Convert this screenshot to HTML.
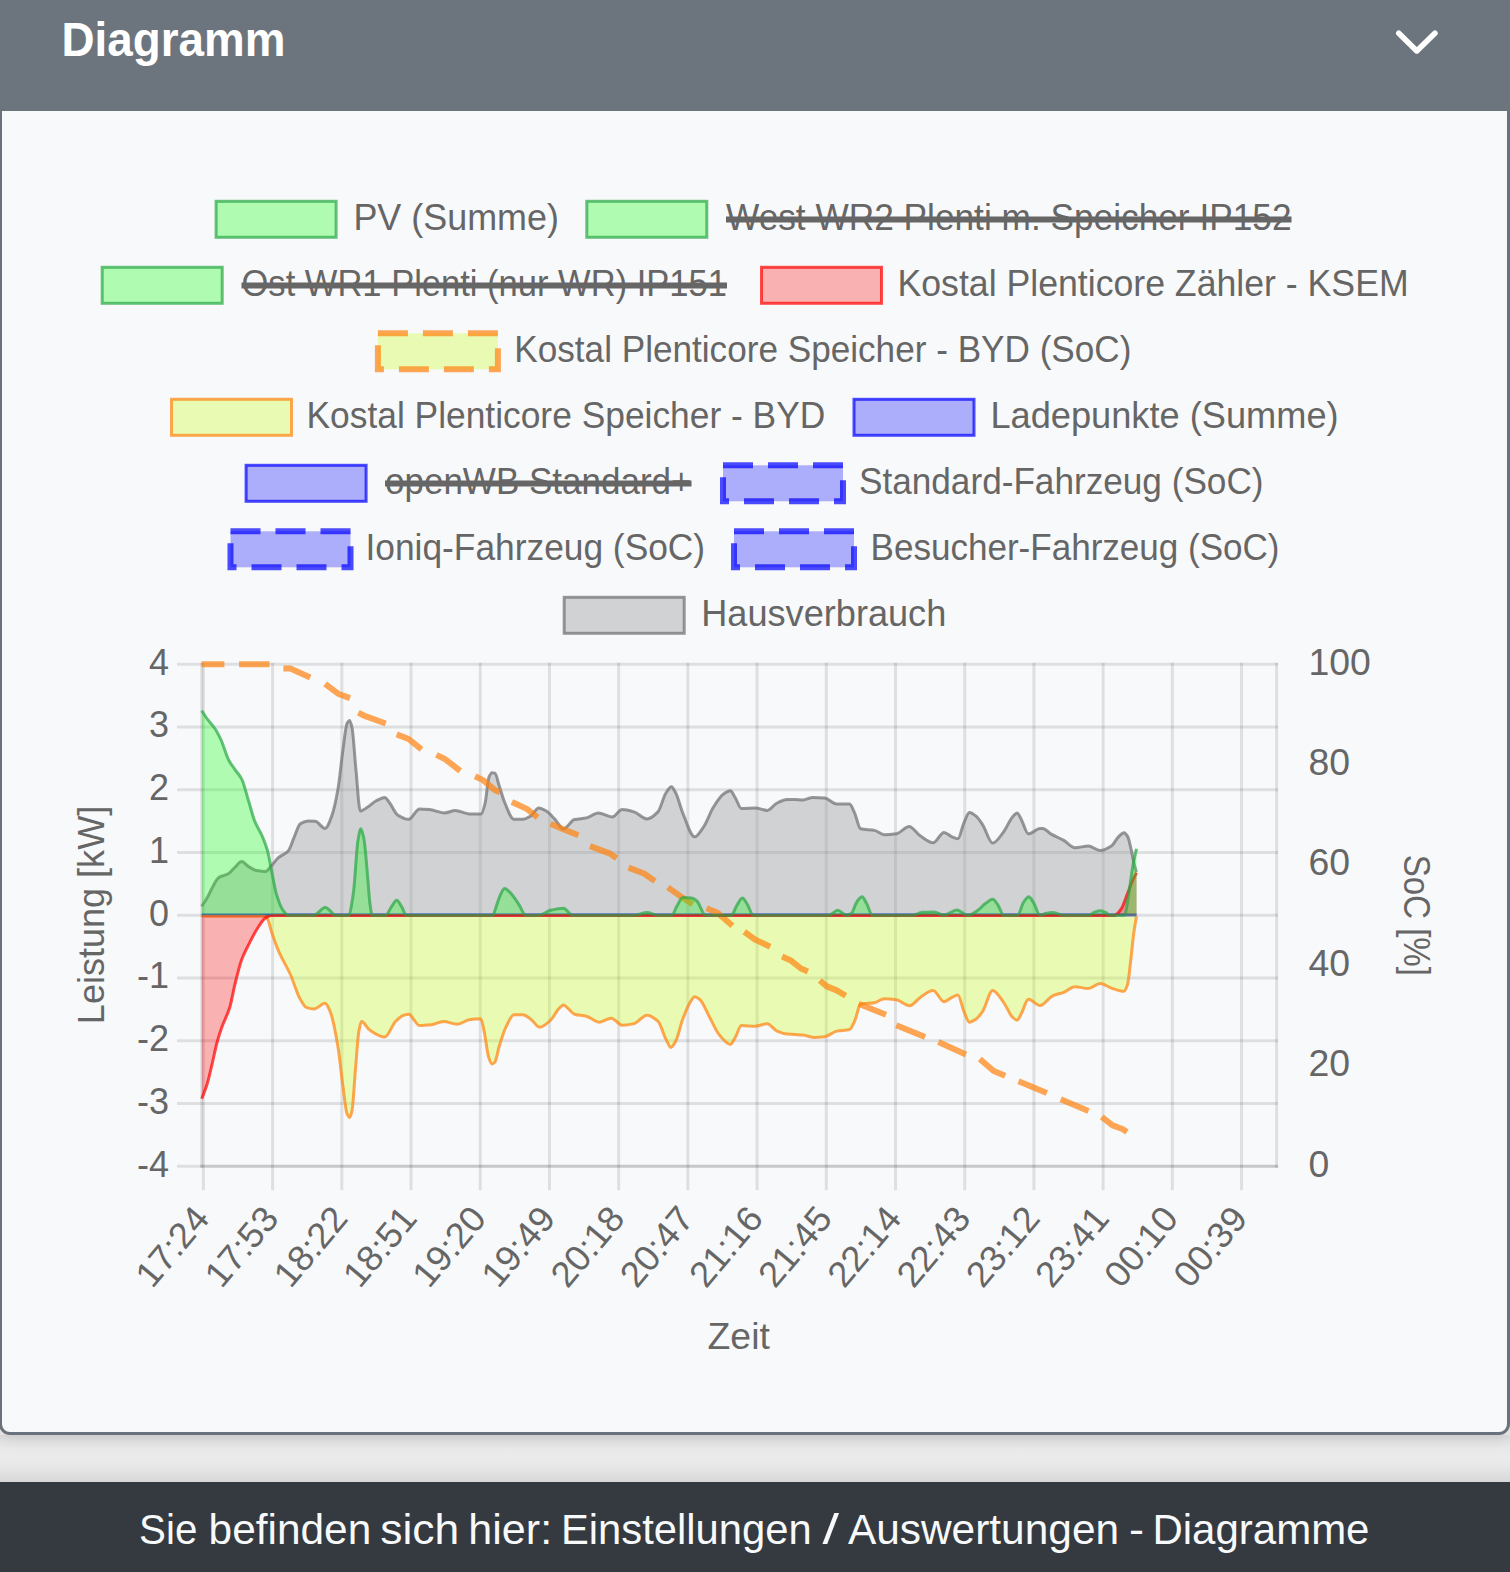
<!DOCTYPE html>
<html><head><meta charset="utf-8"><title>Diagramm</title>
<style>
html,body{margin:0;padding:0}
body{width:1510px;height:1572px;position:relative;overflow:hidden;background:#ececec;font-family:"Liberation Sans",sans-serif}
#card{position:absolute;left:-1px;top:-20px;width:1505px;height:1449px;background:#f8f9fa;border:3px solid #6a737d;border-radius:11px;box-shadow:0 2px 14px rgba(0,0,0,0.12)}
#hdr{position:absolute;left:0;top:0;width:1510px;height:111px;background:#6c757d}
#gap{position:absolute;left:0;top:1435px;width:1510px;height:47px;background:linear-gradient(#dedede 0%,#e9e9e9 30%,#ebebeb 50%,#e4e4e4 75%,#d7d7d7 100%);z-index:-1}
#ftr{position:absolute;left:0;top:1482px;width:1510px;height:90px;background:#343a40}
svg{position:absolute;left:0;top:0}
</style></head><body>
<div id="gap"></div>
<div id="card"></div>
<div id="hdr"></div>
<div id="ftr"></div>
<svg width="1510" height="1572" viewBox="0 0 1510 1572">
<defs><clipPath id="ca"><rect x="200.2" y="655" width="1081" height="520"/></clipPath></defs>
<text x="61.5" y="56.3" fill="#fff" font-family="Liberation Sans, sans-serif" font-weight="bold" font-size="47.5" textLength="224" lengthAdjust="spacingAndGlyphs">Diagramm</text>
<path d="M1398.8 33.2L1416.8 50.9L1434.9 33.2" fill="none" stroke="#fff" stroke-width="5.6" stroke-linecap="round" stroke-linejoin="round"/>
<text x="139.1" y="1544" fill="#f8f9fa" font-family="Liberation Sans, sans-serif" font-size="42" textLength="58.3" lengthAdjust="spacingAndGlyphs">Sie</text>
<text x="208.6" y="1544" fill="#f8f9fa" font-family="Liberation Sans, sans-serif" font-size="42" textLength="162.7" lengthAdjust="spacingAndGlyphs">befinden</text>
<text x="380.2" y="1544" fill="#f8f9fa" font-family="Liberation Sans, sans-serif" font-size="42" textLength="79.1" lengthAdjust="spacingAndGlyphs">sich</text>
<text x="468.3" y="1544" fill="#f8f9fa" font-family="Liberation Sans, sans-serif" font-size="42" textLength="83.8" lengthAdjust="spacingAndGlyphs">hier:</text>
<text x="561.0" y="1544" fill="#f8f9fa" font-family="Liberation Sans, sans-serif" font-size="42" textLength="250.7" lengthAdjust="spacingAndGlyphs">Einstellungen</text>
<text x="822.5" y="1544" fill="#f8f9fa" font-family="Liberation Sans, sans-serif" font-size="42" textLength="16.5" lengthAdjust="spacingAndGlyphs">/</text>
<text x="847.9" y="1544" fill="#f8f9fa" font-family="Liberation Sans, sans-serif" font-size="42" textLength="271.2" lengthAdjust="spacingAndGlyphs">Auswertungen</text>
<text x="1129.0" y="1544" fill="#f8f9fa" font-family="Liberation Sans, sans-serif" font-size="42" textLength="15.0" lengthAdjust="spacingAndGlyphs">-</text>
<text x="1152.4" y="1544" fill="#f8f9fa" font-family="Liberation Sans, sans-serif" font-size="42" textLength="217.1" lengthAdjust="spacingAndGlyphs">Diagramme</text>
<line x1="203.40" y1="662.8" x2="203.40" y2="1190.3" stroke="rgba(0,0,0,0.1)" stroke-width="3"/>
<line x1="272.61" y1="662.8" x2="272.61" y2="1190.3" stroke="rgba(0,0,0,0.1)" stroke-width="3"/>
<line x1="341.82" y1="662.8" x2="341.82" y2="1190.3" stroke="rgba(0,0,0,0.1)" stroke-width="3"/>
<line x1="411.03" y1="662.8" x2="411.03" y2="1190.3" stroke="rgba(0,0,0,0.1)" stroke-width="3"/>
<line x1="480.24" y1="662.8" x2="480.24" y2="1190.3" stroke="rgba(0,0,0,0.1)" stroke-width="3"/>
<line x1="549.45" y1="662.8" x2="549.45" y2="1190.3" stroke="rgba(0,0,0,0.1)" stroke-width="3"/>
<line x1="618.66" y1="662.8" x2="618.66" y2="1190.3" stroke="rgba(0,0,0,0.1)" stroke-width="3"/>
<line x1="687.87" y1="662.8" x2="687.87" y2="1190.3" stroke="rgba(0,0,0,0.1)" stroke-width="3"/>
<line x1="757.08" y1="662.8" x2="757.08" y2="1190.3" stroke="rgba(0,0,0,0.1)" stroke-width="3"/>
<line x1="826.29" y1="662.8" x2="826.29" y2="1190.3" stroke="rgba(0,0,0,0.1)" stroke-width="3"/>
<line x1="895.50" y1="662.8" x2="895.50" y2="1190.3" stroke="rgba(0,0,0,0.1)" stroke-width="3"/>
<line x1="964.71" y1="662.8" x2="964.71" y2="1190.3" stroke="rgba(0,0,0,0.1)" stroke-width="3"/>
<line x1="1033.92" y1="662.8" x2="1033.92" y2="1190.3" stroke="rgba(0,0,0,0.1)" stroke-width="3"/>
<line x1="1103.13" y1="662.8" x2="1103.13" y2="1190.3" stroke="rgba(0,0,0,0.1)" stroke-width="3"/>
<line x1="1172.34" y1="662.8" x2="1172.34" y2="1190.3" stroke="rgba(0,0,0,0.1)" stroke-width="3"/>
<line x1="1241.55" y1="662.8" x2="1241.55" y2="1190.3" stroke="rgba(0,0,0,0.1)" stroke-width="3"/>
<line x1="177" y1="664.30" x2="1278.1" y2="664.30" stroke="rgba(0,0,0,0.1)" stroke-width="3"/>
<line x1="177" y1="727.05" x2="1278.1" y2="727.05" stroke="rgba(0,0,0,0.1)" stroke-width="3"/>
<line x1="177" y1="789.80" x2="1278.1" y2="789.80" stroke="rgba(0,0,0,0.1)" stroke-width="3"/>
<line x1="177" y1="852.55" x2="1278.1" y2="852.55" stroke="rgba(0,0,0,0.1)" stroke-width="3"/>
<line x1="177" y1="915.30" x2="1278.1" y2="915.30" stroke="rgba(0,0,0,0.1)" stroke-width="3"/>
<line x1="177" y1="978.05" x2="1278.1" y2="978.05" stroke="rgba(0,0,0,0.1)" stroke-width="3"/>
<line x1="177" y1="1040.80" x2="1278.1" y2="1040.80" stroke="rgba(0,0,0,0.1)" stroke-width="3"/>
<line x1="177" y1="1103.55" x2="1278.1" y2="1103.55" stroke="rgba(0,0,0,0.1)" stroke-width="3"/>
<line x1="177" y1="1166.30" x2="1278.1" y2="1166.30" stroke="rgba(0,0,0,0.1)" stroke-width="3"/>
<line x1="201.7" y1="662.8" x2="201.7" y2="1167.8" stroke="rgba(0,0,0,0.1)" stroke-width="3"/>
<line x1="200.2" y1="1166.3" x2="1278.1" y2="1166.3" stroke="rgba(0,0,0,0.1)" stroke-width="3"/>
<line x1="1276.6" y1="662.8" x2="1276.6" y2="1167.8" stroke="rgba(0,0,0,0.1)" stroke-width="3"/>
<g clip-path="url(#ca)">
<path d="M201.7 906.3C203.4 903.6 205.2 901.3 206.9 898.3C208.9 894.8 210.9 889.8 212.9 886.4C214.9 883.0 216.8 878.8 218.8 877.5C222.1 875.3 225.5 875.5 228.8 873.5C230.8 872.3 232.7 869.3 234.7 867.5C237.0 865.3 239.4 861.6 241.7 861.6C244.0 861.6 246.3 865.3 248.6 866.6C251.3 868.2 253.9 870.0 256.6 870.5C259.6 871.0 262.5 871.5 265.5 871.5C267.5 871.5 269.5 867.7 271.5 865.6C273.8 863.2 276.1 859.6 278.4 857.6C281.7 854.7 285.1 854.4 288.4 850.7C290.4 848.5 292.3 841.2 294.3 836.8C296.3 832.3 298.3 825.1 300.3 823.8C302.9 822.1 305.6 820.9 308.2 820.9C310.5 820.9 312.9 821.1 315.2 821.3C318.5 821.6 321.8 828.4 325.1 828.4C327.4 828.4 329.8 821.2 332.1 814.9C334.1 809.6 336.0 800.3 338.0 789.1C339.7 779.6 341.3 761.1 343.0 749.3C344.3 739.8 345.7 726.0 347.0 723.5C347.9 721.9 348.7 720.5 349.6 720.5C350.4 720.5 351.2 724.0 352.0 727.5C353.3 733.2 354.6 756.1 355.9 769.2C357.4 784.0 358.8 810.9 360.3 810.9C362.8 810.9 365.3 808.5 367.8 807.0C370.5 805.4 373.1 802.4 375.8 801.0C378.8 799.4 381.7 797.4 384.7 797.4C386.4 797.4 388.0 800.9 389.7 803.0C392.3 806.3 395.0 813.2 397.6 814.9C401.3 817.3 404.9 819.3 408.6 819.3C412.2 819.3 415.9 808.9 419.5 808.9C422.8 808.9 426.1 809.2 429.4 809.5C434.4 810.0 439.3 812.9 444.3 812.9C448.0 812.9 451.6 810.5 455.3 810.5C459.9 810.5 464.6 813.9 469.2 813.9C473.2 813.9 477.1 813.9 481.1 813.9C482.4 813.9 483.8 808.2 485.1 803.0C486.4 798.0 487.7 780.2 489.0 777.2C490.0 774.9 491.0 772.8 492.0 772.8C493.0 772.8 494.0 773.0 495.0 773.2C496.3 773.5 497.7 781.1 499.0 785.1C501.0 791.0 502.9 798.5 504.9 803.0C507.9 809.9 510.9 819.3 513.9 819.3C516.9 819.3 519.8 819.3 522.8 819.3C525.5 819.3 528.1 817.5 530.8 815.9C533.4 814.3 536.1 807.9 538.7 807.9C541.4 807.9 544.0 809.7 546.7 811.3C549.3 812.9 552.0 816.2 554.6 818.9C557.6 822.0 560.5 828.8 563.5 828.8C567.2 828.8 570.8 820.4 574.5 819.5C578.5 818.6 582.4 818.7 586.4 817.9C590.4 817.1 594.3 812.9 598.3 812.9C602.9 812.9 607.6 816.9 612.2 816.9C615.5 816.9 618.9 809.5 622.2 809.5C626.2 809.5 630.1 810.7 634.1 811.9C638.4 813.2 642.7 818.9 647.0 818.9C650.6 818.9 654.3 815.7 657.9 811.9C660.6 809.1 663.2 797.0 665.9 793.0C667.7 790.2 669.6 786.7 671.4 786.7C672.9 786.7 674.3 790.3 675.8 793.0C678.1 797.3 680.4 807.4 682.7 812.9C686.7 822.5 690.7 836.8 694.7 836.8C697.7 836.8 700.6 831.0 703.6 826.8C706.9 822.1 710.2 812.2 713.5 807.0C716.8 801.7 720.2 796.3 723.5 794.0C725.8 792.4 728.1 790.7 730.4 790.7C732.1 790.7 733.7 795.4 735.4 798.0C737.4 801.2 739.4 808.5 741.4 808.5C746.0 808.5 750.7 807.9 755.3 807.9C759.3 807.9 763.2 810.5 767.2 810.5C770.5 810.5 773.8 804.5 777.1 803.0C780.4 801.4 783.8 799.8 787.1 799.6C789.7 799.5 792.4 799.4 795.0 799.4C797.6 799.4 800.3 800.0 802.9 800.0C806.2 800.0 809.6 797.4 812.9 797.4C816.9 797.4 820.8 797.6 824.8 798.0C828.8 798.4 832.7 804.0 836.7 804.0C841.0 804.0 845.3 804.0 849.6 804.0C851.3 804.0 852.9 809.4 854.6 812.9C856.6 817.1 858.6 828.3 860.6 828.8C865.2 830.0 869.9 829.5 874.5 830.4C877.8 831.0 881.1 834.8 884.4 834.8C888.4 834.8 892.3 834.4 896.3 833.8C900.6 833.2 904.9 826.4 909.2 826.4C912.9 826.4 916.5 833.4 920.2 835.8C924.5 838.6 928.8 842.7 933.1 842.7C936.7 842.7 940.4 832.4 944.0 832.4C946.7 832.4 949.3 835.7 952.0 836.8C954.0 837.6 955.9 838.7 957.9 838.7C959.9 838.7 961.9 827.2 963.9 822.8C965.7 818.8 967.6 812.5 969.4 812.5C971.5 812.5 973.7 814.3 975.8 815.9C978.1 817.6 980.4 821.4 982.7 824.8C986.0 829.8 989.4 843.1 992.7 843.1C996.3 843.1 1000.0 836.5 1003.6 831.8C1006.6 828.0 1009.5 820.2 1012.5 816.9C1014.0 815.2 1015.6 812.9 1017.1 812.9C1018.6 812.9 1020.0 817.3 1021.5 819.9C1023.8 824.0 1026.1 833.8 1028.4 833.8C1032.3 833.8 1036.1 828.5 1040.0 828.5C1040.9 828.5 1041.9 828.5 1042.8 828.5C1045.6 828.5 1048.4 832.5 1051.2 834.1C1055.4 836.5 1059.6 838.0 1063.8 840.4C1067.5 842.5 1071.3 847.7 1075.0 847.7C1079.4 847.7 1083.9 846.0 1088.3 846.0C1092.3 846.0 1096.2 850.5 1100.2 850.5C1103.9 850.5 1107.7 848.4 1111.4 846.0C1113.7 844.5 1116.1 839.1 1118.4 836.9C1120.3 835.1 1122.1 832.7 1124.0 832.7C1125.2 832.7 1126.3 834.4 1127.5 836.2C1128.7 838.0 1129.8 844.0 1131.0 848.8C1132.2 853.6 1133.3 861.2 1134.5 865.6C1135.2 868.1 1135.8 869.8 1136.5 871.9L1136.5 915.3L201.7 915.3Z" fill="rgba(150,152,156,0.4)" stroke="none"/>
<path d="M201.7 906.3C203.4 903.6 205.2 901.3 206.9 898.3C208.9 894.8 210.9 889.8 212.9 886.4C214.9 883.0 216.8 878.8 218.8 877.5C222.1 875.3 225.5 875.5 228.8 873.5C230.8 872.3 232.7 869.3 234.7 867.5C237.0 865.3 239.4 861.6 241.7 861.6C244.0 861.6 246.3 865.3 248.6 866.6C251.3 868.2 253.9 870.0 256.6 870.5C259.6 871.0 262.5 871.5 265.5 871.5C267.5 871.5 269.5 867.7 271.5 865.6C273.8 863.2 276.1 859.6 278.4 857.6C281.7 854.7 285.1 854.4 288.4 850.7C290.4 848.5 292.3 841.2 294.3 836.8C296.3 832.3 298.3 825.1 300.3 823.8C302.9 822.1 305.6 820.9 308.2 820.9C310.5 820.9 312.9 821.1 315.2 821.3C318.5 821.6 321.8 828.4 325.1 828.4C327.4 828.4 329.8 821.2 332.1 814.9C334.1 809.6 336.0 800.3 338.0 789.1C339.7 779.6 341.3 761.1 343.0 749.3C344.3 739.8 345.7 726.0 347.0 723.5C347.9 721.9 348.7 720.5 349.6 720.5C350.4 720.5 351.2 724.0 352.0 727.5C353.3 733.2 354.6 756.1 355.9 769.2C357.4 784.0 358.8 810.9 360.3 810.9C362.8 810.9 365.3 808.5 367.8 807.0C370.5 805.4 373.1 802.4 375.8 801.0C378.8 799.4 381.7 797.4 384.7 797.4C386.4 797.4 388.0 800.9 389.7 803.0C392.3 806.3 395.0 813.2 397.6 814.9C401.3 817.3 404.9 819.3 408.6 819.3C412.2 819.3 415.9 808.9 419.5 808.9C422.8 808.9 426.1 809.2 429.4 809.5C434.4 810.0 439.3 812.9 444.3 812.9C448.0 812.9 451.6 810.5 455.3 810.5C459.9 810.5 464.6 813.9 469.2 813.9C473.2 813.9 477.1 813.9 481.1 813.9C482.4 813.9 483.8 808.2 485.1 803.0C486.4 798.0 487.7 780.2 489.0 777.2C490.0 774.9 491.0 772.8 492.0 772.8C493.0 772.8 494.0 773.0 495.0 773.2C496.3 773.5 497.7 781.1 499.0 785.1C501.0 791.0 502.9 798.5 504.9 803.0C507.9 809.9 510.9 819.3 513.9 819.3C516.9 819.3 519.8 819.3 522.8 819.3C525.5 819.3 528.1 817.5 530.8 815.9C533.4 814.3 536.1 807.9 538.7 807.9C541.4 807.9 544.0 809.7 546.7 811.3C549.3 812.9 552.0 816.2 554.6 818.9C557.6 822.0 560.5 828.8 563.5 828.8C567.2 828.8 570.8 820.4 574.5 819.5C578.5 818.6 582.4 818.7 586.4 817.9C590.4 817.1 594.3 812.9 598.3 812.9C602.9 812.9 607.6 816.9 612.2 816.9C615.5 816.9 618.9 809.5 622.2 809.5C626.2 809.5 630.1 810.7 634.1 811.9C638.4 813.2 642.7 818.9 647.0 818.9C650.6 818.9 654.3 815.7 657.9 811.9C660.6 809.1 663.2 797.0 665.9 793.0C667.7 790.2 669.6 786.7 671.4 786.7C672.9 786.7 674.3 790.3 675.8 793.0C678.1 797.3 680.4 807.4 682.7 812.9C686.7 822.5 690.7 836.8 694.7 836.8C697.7 836.8 700.6 831.0 703.6 826.8C706.9 822.1 710.2 812.2 713.5 807.0C716.8 801.7 720.2 796.3 723.5 794.0C725.8 792.4 728.1 790.7 730.4 790.7C732.1 790.7 733.7 795.4 735.4 798.0C737.4 801.2 739.4 808.5 741.4 808.5C746.0 808.5 750.7 807.9 755.3 807.9C759.3 807.9 763.2 810.5 767.2 810.5C770.5 810.5 773.8 804.5 777.1 803.0C780.4 801.4 783.8 799.8 787.1 799.6C789.7 799.5 792.4 799.4 795.0 799.4C797.6 799.4 800.3 800.0 802.9 800.0C806.2 800.0 809.6 797.4 812.9 797.4C816.9 797.4 820.8 797.6 824.8 798.0C828.8 798.4 832.7 804.0 836.7 804.0C841.0 804.0 845.3 804.0 849.6 804.0C851.3 804.0 852.9 809.4 854.6 812.9C856.6 817.1 858.6 828.3 860.6 828.8C865.2 830.0 869.9 829.5 874.5 830.4C877.8 831.0 881.1 834.8 884.4 834.8C888.4 834.8 892.3 834.4 896.3 833.8C900.6 833.2 904.9 826.4 909.2 826.4C912.9 826.4 916.5 833.4 920.2 835.8C924.5 838.6 928.8 842.7 933.1 842.7C936.7 842.7 940.4 832.4 944.0 832.4C946.7 832.4 949.3 835.7 952.0 836.8C954.0 837.6 955.9 838.7 957.9 838.7C959.9 838.7 961.9 827.2 963.9 822.8C965.7 818.8 967.6 812.5 969.4 812.5C971.5 812.5 973.7 814.3 975.8 815.9C978.1 817.6 980.4 821.4 982.7 824.8C986.0 829.8 989.4 843.1 992.7 843.1C996.3 843.1 1000.0 836.5 1003.6 831.8C1006.6 828.0 1009.5 820.2 1012.5 816.9C1014.0 815.2 1015.6 812.9 1017.1 812.9C1018.6 812.9 1020.0 817.3 1021.5 819.9C1023.8 824.0 1026.1 833.8 1028.4 833.8C1032.3 833.8 1036.1 828.5 1040.0 828.5C1040.9 828.5 1041.9 828.5 1042.8 828.5C1045.6 828.5 1048.4 832.5 1051.2 834.1C1055.4 836.5 1059.6 838.0 1063.8 840.4C1067.5 842.5 1071.3 847.7 1075.0 847.7C1079.4 847.7 1083.9 846.0 1088.3 846.0C1092.3 846.0 1096.2 850.5 1100.2 850.5C1103.9 850.5 1107.7 848.4 1111.4 846.0C1113.7 844.5 1116.1 839.1 1118.4 836.9C1120.3 835.1 1122.1 832.7 1124.0 832.7C1125.2 832.7 1126.3 834.4 1127.5 836.2C1128.7 838.0 1129.8 844.0 1131.0 848.8C1132.2 853.6 1133.3 861.2 1134.5 865.6C1135.2 868.1 1135.8 869.8 1136.5 871.9" fill="none" stroke="rgba(117,118,121,0.75)" stroke-width="3" stroke-linejoin="round"/>
<line x1="201.7" y1="915.0" x2="1136.5" y2="915.0" stroke="rgba(0,0,255,0.7)" stroke-width="3"/>
<path d="M201.7 916.3C222.6 916.3 243.6 916.3 264.5 916.3C265.5 916.3 266.5 917.6 267.5 918.9C268.8 920.7 270.2 927.8 271.5 931.8C273.8 938.7 276.1 945.3 278.4 950.7C282.4 960.0 286.4 965.6 290.4 974.5C293.7 981.8 297.0 993.7 300.3 999.3C302.3 1002.7 304.3 1006.6 306.3 1007.3C308.9 1008.3 311.6 1008.9 314.2 1008.9C317.8 1008.9 321.5 1003.3 325.1 1003.3C326.8 1003.3 328.4 1007.5 330.1 1011.3C332.7 1017.3 335.4 1031.5 338.0 1047.0C339.7 1056.8 341.3 1074.7 343.0 1086.8C344.3 1096.5 345.7 1110.5 347.0 1113.6C347.9 1115.6 348.7 1117.5 349.6 1117.5C350.4 1117.5 351.2 1114.2 352.0 1110.6C353.2 1105.4 354.3 1082.3 355.5 1068.9C356.6 1055.9 357.8 1037.2 358.9 1031.1C359.8 1026.4 360.6 1021.6 361.5 1021.6C364.3 1021.6 367.0 1028.3 369.8 1030.1C374.8 1033.4 379.7 1037.1 384.7 1037.1C388.4 1037.1 392.0 1024.8 395.7 1021.2C398.3 1018.6 401.0 1015.9 403.6 1015.2C405.5 1014.7 407.3 1014.2 409.2 1014.2C410.6 1014.2 412.1 1017.6 413.5 1019.2C415.5 1021.4 417.5 1025.6 419.5 1025.6C423.5 1025.6 427.4 1025.2 431.4 1024.8C435.4 1024.4 439.3 1021.6 443.3 1021.6C448.0 1021.6 452.6 1024.2 457.3 1024.2C461.3 1024.2 465.2 1020.4 469.2 1019.8C473.0 1019.3 476.9 1018.8 480.7 1018.8C481.8 1018.8 483.0 1026.1 484.1 1031.1C485.6 1037.7 487.1 1052.6 488.6 1057.0C489.7 1060.3 490.9 1063.9 492.0 1063.9C493.0 1063.9 494.0 1063.0 495.0 1061.9C496.3 1060.4 497.7 1051.4 499.0 1047.0C501.3 1039.5 503.6 1031.9 505.9 1027.2C508.6 1021.8 511.2 1014.8 513.9 1014.8C516.9 1014.8 519.8 1014.8 522.8 1014.8C525.5 1014.8 528.1 1017.4 530.8 1019.2C533.8 1021.2 536.7 1027.2 539.7 1027.2C543.3 1027.2 547.0 1023.5 550.6 1020.2C553.3 1017.8 555.9 1011.6 558.6 1008.9C560.2 1007.2 561.9 1004.9 563.5 1004.9C565.2 1004.9 566.8 1007.5 568.5 1008.9C570.5 1010.6 572.5 1013.6 574.5 1014.2C578.5 1015.4 582.4 1015.2 586.4 1016.2C590.7 1017.3 595.0 1022.2 599.3 1022.2C603.3 1022.2 607.2 1018.2 611.2 1018.2C614.9 1018.2 618.5 1025.2 622.2 1025.2C626.2 1025.2 630.1 1024.5 634.1 1023.6C638.4 1022.6 642.7 1015.2 647.0 1015.2C650.6 1015.2 654.3 1017.9 657.9 1021.2C660.6 1023.6 663.2 1034.0 665.9 1039.1C667.5 1042.2 669.2 1047.4 670.8 1047.4C672.5 1047.4 674.1 1044.0 675.8 1041.1C678.1 1037.0 680.4 1025.3 682.7 1019.2C685.4 1012.2 688.0 1005.2 690.7 1001.3C692.0 999.4 693.4 996.8 694.7 996.8C696.3 996.8 698.0 998.1 699.6 999.3C702.9 1001.8 706.3 1011.2 709.6 1017.2C712.9 1023.1 716.2 1031.3 719.5 1035.1C723.1 1039.3 726.8 1044.4 730.4 1044.4C732.1 1044.4 733.7 1039.9 735.4 1037.1C737.4 1033.8 739.4 1025.6 741.4 1025.6C746.0 1025.6 750.7 1026.2 755.3 1026.2C759.3 1026.2 763.2 1023.8 767.2 1023.8C770.5 1023.8 773.8 1029.7 777.1 1031.1C780.4 1032.5 783.8 1033.8 787.1 1034.1C789.7 1034.3 792.4 1034.3 795.0 1034.5C797.6 1034.7 800.3 1034.8 802.9 1035.1C806.9 1035.5 810.9 1037.5 814.9 1037.5C818.2 1037.5 821.5 1037.1 824.8 1036.7C828.8 1036.2 832.7 1031.9 836.7 1031.1C841.0 1030.2 845.3 1030.6 849.6 1029.5C851.3 1029.1 852.9 1024.7 854.6 1021.2C856.6 1017.1 858.6 1004.8 860.6 1004.3C865.2 1003.1 869.9 1003.6 874.5 1002.7C877.8 1002.1 881.1 998.7 884.4 998.7C888.4 998.7 892.3 999.1 896.3 999.7C900.8 1000.3 905.3 1005.7 909.8 1005.7C913.3 1005.7 916.7 999.7 920.2 997.4C924.5 994.6 928.8 990.4 933.1 990.4C936.7 990.4 940.4 1001.7 944.0 1001.7C946.7 1001.7 949.3 998.6 952.0 997.4C954.0 996.5 955.9 995.0 957.9 995.0C959.9 995.0 961.9 1006.7 963.9 1011.3C965.7 1015.5 967.6 1022.2 969.4 1022.2C971.5 1022.2 973.7 1020.6 975.8 1019.2C978.1 1017.7 980.4 1014.6 982.7 1011.3C986.0 1006.5 989.4 990.4 992.7 990.4C996.3 990.4 1000.0 997.5 1003.6 1002.3C1006.6 1006.2 1009.5 1014.5 1012.5 1017.2C1014.0 1018.6 1015.6 1020.2 1017.1 1020.2C1018.6 1020.2 1020.0 1015.8 1021.5 1013.2C1023.8 1009.1 1026.1 999.3 1028.4 999.3C1032.3 999.3 1036.1 1005.6 1040.0 1005.6C1044.2 1005.6 1048.4 997.7 1052.6 995.8C1056.3 994.1 1060.1 993.7 1063.8 992.3C1067.5 990.9 1071.3 986.7 1075.0 986.7C1079.4 986.7 1083.9 988.5 1088.3 988.5C1092.3 988.5 1096.2 983.5 1100.2 983.5C1103.9 983.5 1107.7 986.9 1111.4 988.1C1115.6 989.4 1119.8 991.3 1124.0 991.3C1125.2 991.3 1126.3 988.2 1127.5 984.6C1128.7 981.0 1129.8 967.6 1131.0 958.0C1131.9 950.3 1132.9 939.6 1133.8 932.8C1134.7 926.3 1135.6 921.8 1136.5 916.3L1136.5 915.3L201.7 915.3Z" fill="rgba(200,255,13,0.3)" stroke="none"/>
<path d="M201.7 916.3C222.6 916.3 243.6 916.3 264.5 916.3C265.5 916.3 266.5 917.6 267.5 918.9C268.8 920.7 270.2 927.8 271.5 931.8C273.8 938.7 276.1 945.3 278.4 950.7C282.4 960.0 286.4 965.6 290.4 974.5C293.7 981.8 297.0 993.7 300.3 999.3C302.3 1002.7 304.3 1006.6 306.3 1007.3C308.9 1008.3 311.6 1008.9 314.2 1008.9C317.8 1008.9 321.5 1003.3 325.1 1003.3C326.8 1003.3 328.4 1007.5 330.1 1011.3C332.7 1017.3 335.4 1031.5 338.0 1047.0C339.7 1056.8 341.3 1074.7 343.0 1086.8C344.3 1096.5 345.7 1110.5 347.0 1113.6C347.9 1115.6 348.7 1117.5 349.6 1117.5C350.4 1117.5 351.2 1114.2 352.0 1110.6C353.2 1105.4 354.3 1082.3 355.5 1068.9C356.6 1055.9 357.8 1037.2 358.9 1031.1C359.8 1026.4 360.6 1021.6 361.5 1021.6C364.3 1021.6 367.0 1028.3 369.8 1030.1C374.8 1033.4 379.7 1037.1 384.7 1037.1C388.4 1037.1 392.0 1024.8 395.7 1021.2C398.3 1018.6 401.0 1015.9 403.6 1015.2C405.5 1014.7 407.3 1014.2 409.2 1014.2C410.6 1014.2 412.1 1017.6 413.5 1019.2C415.5 1021.4 417.5 1025.6 419.5 1025.6C423.5 1025.6 427.4 1025.2 431.4 1024.8C435.4 1024.4 439.3 1021.6 443.3 1021.6C448.0 1021.6 452.6 1024.2 457.3 1024.2C461.3 1024.2 465.2 1020.4 469.2 1019.8C473.0 1019.3 476.9 1018.8 480.7 1018.8C481.8 1018.8 483.0 1026.1 484.1 1031.1C485.6 1037.7 487.1 1052.6 488.6 1057.0C489.7 1060.3 490.9 1063.9 492.0 1063.9C493.0 1063.9 494.0 1063.0 495.0 1061.9C496.3 1060.4 497.7 1051.4 499.0 1047.0C501.3 1039.5 503.6 1031.9 505.9 1027.2C508.6 1021.8 511.2 1014.8 513.9 1014.8C516.9 1014.8 519.8 1014.8 522.8 1014.8C525.5 1014.8 528.1 1017.4 530.8 1019.2C533.8 1021.2 536.7 1027.2 539.7 1027.2C543.3 1027.2 547.0 1023.5 550.6 1020.2C553.3 1017.8 555.9 1011.6 558.6 1008.9C560.2 1007.2 561.9 1004.9 563.5 1004.9C565.2 1004.9 566.8 1007.5 568.5 1008.9C570.5 1010.6 572.5 1013.6 574.5 1014.2C578.5 1015.4 582.4 1015.2 586.4 1016.2C590.7 1017.3 595.0 1022.2 599.3 1022.2C603.3 1022.2 607.2 1018.2 611.2 1018.2C614.9 1018.2 618.5 1025.2 622.2 1025.2C626.2 1025.2 630.1 1024.5 634.1 1023.6C638.4 1022.6 642.7 1015.2 647.0 1015.2C650.6 1015.2 654.3 1017.9 657.9 1021.2C660.6 1023.6 663.2 1034.0 665.9 1039.1C667.5 1042.2 669.2 1047.4 670.8 1047.4C672.5 1047.4 674.1 1044.0 675.8 1041.1C678.1 1037.0 680.4 1025.3 682.7 1019.2C685.4 1012.2 688.0 1005.2 690.7 1001.3C692.0 999.4 693.4 996.8 694.7 996.8C696.3 996.8 698.0 998.1 699.6 999.3C702.9 1001.8 706.3 1011.2 709.6 1017.2C712.9 1023.1 716.2 1031.3 719.5 1035.1C723.1 1039.3 726.8 1044.4 730.4 1044.4C732.1 1044.4 733.7 1039.9 735.4 1037.1C737.4 1033.8 739.4 1025.6 741.4 1025.6C746.0 1025.6 750.7 1026.2 755.3 1026.2C759.3 1026.2 763.2 1023.8 767.2 1023.8C770.5 1023.8 773.8 1029.7 777.1 1031.1C780.4 1032.5 783.8 1033.8 787.1 1034.1C789.7 1034.3 792.4 1034.3 795.0 1034.5C797.6 1034.7 800.3 1034.8 802.9 1035.1C806.9 1035.5 810.9 1037.5 814.9 1037.5C818.2 1037.5 821.5 1037.1 824.8 1036.7C828.8 1036.2 832.7 1031.9 836.7 1031.1C841.0 1030.2 845.3 1030.6 849.6 1029.5C851.3 1029.1 852.9 1024.7 854.6 1021.2C856.6 1017.1 858.6 1004.8 860.6 1004.3C865.2 1003.1 869.9 1003.6 874.5 1002.7C877.8 1002.1 881.1 998.7 884.4 998.7C888.4 998.7 892.3 999.1 896.3 999.7C900.8 1000.3 905.3 1005.7 909.8 1005.7C913.3 1005.7 916.7 999.7 920.2 997.4C924.5 994.6 928.8 990.4 933.1 990.4C936.7 990.4 940.4 1001.7 944.0 1001.7C946.7 1001.7 949.3 998.6 952.0 997.4C954.0 996.5 955.9 995.0 957.9 995.0C959.9 995.0 961.9 1006.7 963.9 1011.3C965.7 1015.5 967.6 1022.2 969.4 1022.2C971.5 1022.2 973.7 1020.6 975.8 1019.2C978.1 1017.7 980.4 1014.6 982.7 1011.3C986.0 1006.5 989.4 990.4 992.7 990.4C996.3 990.4 1000.0 997.5 1003.6 1002.3C1006.6 1006.2 1009.5 1014.5 1012.5 1017.2C1014.0 1018.6 1015.6 1020.2 1017.1 1020.2C1018.6 1020.2 1020.0 1015.8 1021.5 1013.2C1023.8 1009.1 1026.1 999.3 1028.4 999.3C1032.3 999.3 1036.1 1005.6 1040.0 1005.6C1044.2 1005.6 1048.4 997.7 1052.6 995.8C1056.3 994.1 1060.1 993.7 1063.8 992.3C1067.5 990.9 1071.3 986.7 1075.0 986.7C1079.4 986.7 1083.9 988.5 1088.3 988.5C1092.3 988.5 1096.2 983.5 1100.2 983.5C1103.9 983.5 1107.7 986.9 1111.4 988.1C1115.6 989.4 1119.8 991.3 1124.0 991.3C1125.2 991.3 1126.3 988.2 1127.5 984.6C1128.7 981.0 1129.8 967.6 1131.0 958.0C1131.9 950.3 1132.9 939.6 1133.8 932.8C1134.7 926.3 1135.6 921.8 1136.5 916.3" fill="none" stroke="rgba(255,130,13,0.7)" stroke-width="3" stroke-linejoin="round"/>
<path d="M201.5 664.3L224.4 664.3M239.1 664.3L269.5 664.3M283.4 668.6L290.4 668.6L310.2 677.4M325.1 683.8L338.1 693.7L350.0 698.1M358.3 712.6L363.9 715.6L385.7 723.5M396.7 734.4L408.6 739.0L421.5 749.3M436.4 754.9L445.3 759.3L460.2 770.8M475.1 776.2L483.1 780.1L495.0 790.1L500.0 792.1M511.9 802.0L526.8 808.9L537.7 817.3M550.6 823.8L564.5 829.8L578.4 835.2M590.0 846.1L610.2 853.6L616.6 858.2M628.5 867.6L644.0 873.5L654.9 881.1M667.9 887.4L677.8 894.4L692.7 904.3M706.6 908.3L717.5 912.7L732.4 925.8M744.3 931.8L755.3 939.7L770.2 946.7M782.1 956.6L791.0 960.6L801.0 968.5L807.9 971.5M819.8 980.5L826.8 986.4L836.7 990.4L845.7 995.8M858.6 1003.7L886.0 1014.8M896.3 1025.2L925.1 1037.1M938.4 1042.1L965.9 1054.6M979.8 1058.9L993.7 1070.9L1005.2 1075.8M1018.5 1081.2L1046.9 1093.1M1060.7 1099.2L1088.5 1110.9M1101.7 1116.8L1112.6 1125.4L1122.5 1129.0L1126.9 1132.0" fill="none" stroke="rgba(255,130,13,0.7)" stroke-width="6" stroke-linejoin="round"/>
<path d="M201.7 1098.7C203.4 1094.1 205.2 1090.4 206.9 1084.8C208.6 1079.5 210.2 1071.9 211.9 1064.9C213.6 1057.9 215.2 1049.2 216.9 1043.0C218.5 1036.9 220.2 1031.8 221.8 1027.2C224.5 1019.6 227.1 1016.0 229.8 1007.3C231.4 1002.0 233.1 992.0 234.7 985.4C237.0 975.9 239.4 966.0 241.7 959.6C244.0 953.3 246.3 949.3 248.6 944.7C251.3 939.4 253.9 934.0 256.6 929.8C259.6 925.2 262.5 919.7 265.5 917.9C267.5 916.7 269.5 915.5 271.5 915.5C275.8 915.5 280.1 915.5 284.4 915.5C556.3 915.5 828.1 915.5 1100.0 915.5C1104.7 915.5 1109.5 915.5 1114.2 915.5C1116.5 915.5 1118.9 912.2 1121.2 909.0C1123.3 906.2 1125.4 898.9 1127.5 893.6C1129.1 889.5 1130.8 884.7 1132.4 881.0C1133.8 877.9 1135.1 875.4 1136.5 872.6L1136.5 915.3L201.7 915.3Z" fill="rgba(255,10,13,0.3)" stroke="none"/>
<path d="M201.7 1098.7C203.4 1094.1 205.2 1090.4 206.9 1084.8C208.6 1079.5 210.2 1071.9 211.9 1064.9C213.6 1057.9 215.2 1049.2 216.9 1043.0C218.5 1036.9 220.2 1031.8 221.8 1027.2C224.5 1019.6 227.1 1016.0 229.8 1007.3C231.4 1002.0 233.1 992.0 234.7 985.4C237.0 975.9 239.4 966.0 241.7 959.6C244.0 953.3 246.3 949.3 248.6 944.7C251.3 939.4 253.9 934.0 256.6 929.8C259.6 925.2 262.5 919.7 265.5 917.9C267.5 916.7 269.5 915.5 271.5 915.5C275.8 915.5 280.1 915.5 284.4 915.5C556.3 915.5 828.1 915.5 1100.0 915.5C1104.7 915.5 1109.5 915.5 1114.2 915.5C1116.5 915.5 1118.9 912.2 1121.2 909.0C1123.3 906.2 1125.4 898.9 1127.5 893.6C1129.1 889.5 1130.8 884.7 1132.4 881.0C1133.8 877.9 1135.1 875.4 1136.5 872.6" fill="none" stroke="rgba(255,0,0,0.7)" stroke-width="3" stroke-linejoin="round"/>
<path d="M201.7 710.6C203.4 713.2 205.2 716.1 206.9 718.5C209.6 722.2 212.2 724.5 214.9 728.5C216.9 731.5 218.8 735.2 220.8 739.4C223.5 745.1 226.1 755.3 228.8 760.3C230.8 764.0 232.7 766.3 234.7 769.2C237.0 772.6 239.4 774.5 241.7 779.1C244.0 783.6 246.3 793.5 248.6 801.0C250.6 807.5 252.6 815.8 254.6 820.9C257.2 827.6 259.9 830.6 262.5 836.8C264.2 840.7 265.8 844.7 267.5 850.7C268.8 855.5 270.2 864.0 271.5 870.5C273.2 878.6 274.8 888.8 276.5 894.4C278.5 901.0 280.4 906.5 282.4 909.3C284.4 912.2 286.4 915.3 288.4 915.3C297.0 915.3 305.6 915.3 314.2 915.3C316.2 915.3 318.2 912.2 320.2 910.7C321.8 909.5 323.5 907.3 325.1 907.3C326.8 907.3 328.4 909.4 330.1 910.7C331.8 912.0 333.4 915.3 335.1 915.3C339.7 915.3 344.4 915.3 349.0 915.3C350.0 915.3 351.0 907.8 352.0 902.3C352.6 898.8 353.3 894.0 353.9 888.4C355.2 876.6 356.6 848.5 357.9 840.7C358.9 834.9 359.9 828.8 360.9 828.8C361.9 828.8 362.9 833.8 363.9 838.7C365.2 845.0 366.5 864.1 367.8 878.5C368.5 885.9 369.1 897.3 369.8 902.3C370.6 908.3 371.4 915.3 372.2 915.3C376.7 915.3 381.2 915.3 385.7 915.3C387.7 915.3 389.7 909.0 391.7 906.3C393.4 904.1 395.0 900.3 396.7 900.3C398.3 900.3 400.0 904.3 401.6 906.7C403.3 909.2 404.9 915.3 406.6 915.3C435.4 915.3 464.2 915.3 493.0 915.3C493.7 915.3 494.3 912.1 495.0 910.3C496.3 906.7 497.7 901.3 499.0 898.3C500.8 894.1 502.7 888.4 504.5 888.4C506.6 888.4 508.8 891.3 510.9 893.4C513.5 896.0 516.2 900.4 518.8 904.3C521.1 907.7 523.5 915.3 525.8 915.3C530.1 915.3 534.4 915.3 538.7 915.3C542.7 915.3 546.6 911.2 550.6 910.3C554.9 909.3 559.2 908.3 563.5 908.3C566.5 908.3 569.5 915.3 572.5 915.3C593.0 915.3 613.6 915.3 634.1 915.3C638.4 915.3 642.7 912.6 647.0 912.6C650.6 912.6 654.3 915.3 657.9 915.3C662.5 915.3 667.2 915.3 671.8 915.3C673.5 915.3 675.1 909.0 676.8 906.3C678.8 903.1 680.7 897.4 682.7 897.4C685.7 897.4 688.7 897.6 691.7 897.9C693.4 898.1 695.0 899.4 696.7 900.7C699.7 903.1 702.6 915.3 705.6 915.3C714.2 915.3 722.8 915.3 731.4 915.3C733.1 915.3 734.7 908.9 736.4 906.3C738.4 903.1 740.4 897.9 742.4 897.9C744.0 897.9 745.7 901.8 747.3 904.3C749.3 907.3 751.3 915.3 753.3 915.3C767.2 915.3 781.1 915.3 795.0 915.3C806.3 915.3 817.5 915.3 828.8 915.3C831.8 915.3 834.7 910.3 837.7 910.3C840.7 910.3 843.7 915.3 846.7 915.3C848.3 915.3 850.0 914.4 851.6 913.2C853.3 912.0 854.9 904.6 856.6 902.3C858.4 899.8 860.2 896.8 862.0 896.8C863.5 896.8 865.0 900.8 866.5 903.3C868.5 906.6 870.5 915.3 872.5 915.3C885.7 915.3 899.0 915.3 912.2 915.3C915.5 915.3 918.9 912.5 922.2 912.3C926.2 912.1 930.1 911.9 934.1 911.9C937.4 911.9 940.7 915.3 944.0 915.3C948.3 915.3 952.6 909.9 956.9 909.9C960.5 909.9 964.2 915.3 967.8 915.3C971.1 915.3 974.5 912.5 977.8 910.3C980.4 908.6 983.1 905.1 985.7 903.3C988.0 901.7 990.4 899.3 992.7 899.3C994.3 899.3 996.0 902.2 997.6 904.3C999.6 906.9 1001.6 915.3 1003.6 915.3C1008.2 915.3 1012.9 915.3 1017.5 915.3C1019.5 915.3 1021.5 905.1 1023.5 902.3C1025.3 899.8 1027.0 896.8 1028.8 896.8C1030.3 896.8 1031.9 900.1 1033.4 902.3C1035.6 905.5 1037.8 915.3 1040.0 915.3C1041.9 915.3 1043.7 913.9 1045.6 913.5C1047.9 913.0 1050.3 912.5 1052.6 912.5C1056.3 912.5 1060.1 915.3 1063.8 915.3C1072.2 915.3 1080.6 915.3 1089.0 915.3C1090.9 915.3 1092.7 912.7 1094.6 912.1C1096.5 911.5 1098.3 910.7 1100.2 910.7C1102.1 910.7 1103.9 911.7 1105.8 912.5C1107.2 913.1 1108.6 915.3 1110.0 915.3C1114.9 915.3 1119.8 915.3 1124.7 915.3C1125.6 915.3 1126.6 907.2 1127.5 902.0C1128.2 898.1 1128.9 892.7 1129.6 888.0C1130.8 880.2 1131.9 870.5 1133.1 864.2C1134.2 858.0 1135.4 853.9 1136.5 848.8L1136.5 915.3L201.7 915.3Z" fill="rgba(10,255,13,0.3)" stroke="none"/>
<path d="M201.7 710.6C203.4 713.2 205.2 716.1 206.9 718.5C209.6 722.2 212.2 724.5 214.9 728.5C216.9 731.5 218.8 735.2 220.8 739.4C223.5 745.1 226.1 755.3 228.8 760.3C230.8 764.0 232.7 766.3 234.7 769.2C237.0 772.6 239.4 774.5 241.7 779.1C244.0 783.6 246.3 793.5 248.6 801.0C250.6 807.5 252.6 815.8 254.6 820.9C257.2 827.6 259.9 830.6 262.5 836.8C264.2 840.7 265.8 844.7 267.5 850.7C268.8 855.5 270.2 864.0 271.5 870.5C273.2 878.6 274.8 888.8 276.5 894.4C278.5 901.0 280.4 906.5 282.4 909.3C284.4 912.2 286.4 915.3 288.4 915.3C297.0 915.3 305.6 915.3 314.2 915.3C316.2 915.3 318.2 912.2 320.2 910.7C321.8 909.5 323.5 907.3 325.1 907.3C326.8 907.3 328.4 909.4 330.1 910.7C331.8 912.0 333.4 915.3 335.1 915.3C339.7 915.3 344.4 915.3 349.0 915.3C350.0 915.3 351.0 907.8 352.0 902.3C352.6 898.8 353.3 894.0 353.9 888.4C355.2 876.6 356.6 848.5 357.9 840.7C358.9 834.9 359.9 828.8 360.9 828.8C361.9 828.8 362.9 833.8 363.9 838.7C365.2 845.0 366.5 864.1 367.8 878.5C368.5 885.9 369.1 897.3 369.8 902.3C370.6 908.3 371.4 915.3 372.2 915.3C376.7 915.3 381.2 915.3 385.7 915.3C387.7 915.3 389.7 909.0 391.7 906.3C393.4 904.1 395.0 900.3 396.7 900.3C398.3 900.3 400.0 904.3 401.6 906.7C403.3 909.2 404.9 915.3 406.6 915.3C435.4 915.3 464.2 915.3 493.0 915.3C493.7 915.3 494.3 912.1 495.0 910.3C496.3 906.7 497.7 901.3 499.0 898.3C500.8 894.1 502.7 888.4 504.5 888.4C506.6 888.4 508.8 891.3 510.9 893.4C513.5 896.0 516.2 900.4 518.8 904.3C521.1 907.7 523.5 915.3 525.8 915.3C530.1 915.3 534.4 915.3 538.7 915.3C542.7 915.3 546.6 911.2 550.6 910.3C554.9 909.3 559.2 908.3 563.5 908.3C566.5 908.3 569.5 915.3 572.5 915.3C593.0 915.3 613.6 915.3 634.1 915.3C638.4 915.3 642.7 912.6 647.0 912.6C650.6 912.6 654.3 915.3 657.9 915.3C662.5 915.3 667.2 915.3 671.8 915.3C673.5 915.3 675.1 909.0 676.8 906.3C678.8 903.1 680.7 897.4 682.7 897.4C685.7 897.4 688.7 897.6 691.7 897.9C693.4 898.1 695.0 899.4 696.7 900.7C699.7 903.1 702.6 915.3 705.6 915.3C714.2 915.3 722.8 915.3 731.4 915.3C733.1 915.3 734.7 908.9 736.4 906.3C738.4 903.1 740.4 897.9 742.4 897.9C744.0 897.9 745.7 901.8 747.3 904.3C749.3 907.3 751.3 915.3 753.3 915.3C767.2 915.3 781.1 915.3 795.0 915.3C806.3 915.3 817.5 915.3 828.8 915.3C831.8 915.3 834.7 910.3 837.7 910.3C840.7 910.3 843.7 915.3 846.7 915.3C848.3 915.3 850.0 914.4 851.6 913.2C853.3 912.0 854.9 904.6 856.6 902.3C858.4 899.8 860.2 896.8 862.0 896.8C863.5 896.8 865.0 900.8 866.5 903.3C868.5 906.6 870.5 915.3 872.5 915.3C885.7 915.3 899.0 915.3 912.2 915.3C915.5 915.3 918.9 912.5 922.2 912.3C926.2 912.1 930.1 911.9 934.1 911.9C937.4 911.9 940.7 915.3 944.0 915.3C948.3 915.3 952.6 909.9 956.9 909.9C960.5 909.9 964.2 915.3 967.8 915.3C971.1 915.3 974.5 912.5 977.8 910.3C980.4 908.6 983.1 905.1 985.7 903.3C988.0 901.7 990.4 899.3 992.7 899.3C994.3 899.3 996.0 902.2 997.6 904.3C999.6 906.9 1001.6 915.3 1003.6 915.3C1008.2 915.3 1012.9 915.3 1017.5 915.3C1019.5 915.3 1021.5 905.1 1023.5 902.3C1025.3 899.8 1027.0 896.8 1028.8 896.8C1030.3 896.8 1031.9 900.1 1033.4 902.3C1035.6 905.5 1037.8 915.3 1040.0 915.3C1041.9 915.3 1043.7 913.9 1045.6 913.5C1047.9 913.0 1050.3 912.5 1052.6 912.5C1056.3 912.5 1060.1 915.3 1063.8 915.3C1072.2 915.3 1080.6 915.3 1089.0 915.3C1090.9 915.3 1092.7 912.7 1094.6 912.1C1096.5 911.5 1098.3 910.7 1100.2 910.7C1102.1 910.7 1103.9 911.7 1105.8 912.5C1107.2 913.1 1108.6 915.3 1110.0 915.3C1114.9 915.3 1119.8 915.3 1124.7 915.3C1125.6 915.3 1126.6 907.2 1127.5 902.0C1128.2 898.1 1128.9 892.7 1129.6 888.0C1130.8 880.2 1131.9 870.5 1133.1 864.2C1134.2 858.0 1135.4 853.9 1136.5 848.8" fill="none" stroke="rgba(40,167,69,0.7)" stroke-width="3" stroke-linejoin="round"/>
</g>
<text x="169" y="674.5" text-anchor="end" fill="#666" font-family="Liberation Sans, sans-serif" font-size="36">4</text>
<text x="169" y="737.2" text-anchor="end" fill="#666" font-family="Liberation Sans, sans-serif" font-size="36">3</text>
<text x="169" y="800.0" text-anchor="end" fill="#666" font-family="Liberation Sans, sans-serif" font-size="36">2</text>
<text x="169" y="862.8" text-anchor="end" fill="#666" font-family="Liberation Sans, sans-serif" font-size="36">1</text>
<text x="169" y="925.5" text-anchor="end" fill="#666" font-family="Liberation Sans, sans-serif" font-size="36">0</text>
<text x="169" y="988.2" text-anchor="end" fill="#666" font-family="Liberation Sans, sans-serif" font-size="36">-1</text>
<text x="169" y="1051.0" text-anchor="end" fill="#666" font-family="Liberation Sans, sans-serif" font-size="36">-2</text>
<text x="169" y="1113.8" text-anchor="end" fill="#666" font-family="Liberation Sans, sans-serif" font-size="36">-3</text>
<text x="169" y="1176.5" text-anchor="end" fill="#666" font-family="Liberation Sans, sans-serif" font-size="36">-4</text>
<text x="1308.5" y="674.5" textLength="62.4" lengthAdjust="spacingAndGlyphs" fill="#666" font-family="Liberation Sans, sans-serif" font-size="36">100</text>
<text x="1308.5" y="774.9" textLength="41.6" lengthAdjust="spacingAndGlyphs" fill="#666" font-family="Liberation Sans, sans-serif" font-size="36">80</text>
<text x="1308.5" y="875.3" textLength="41.6" lengthAdjust="spacingAndGlyphs" fill="#666" font-family="Liberation Sans, sans-serif" font-size="36">60</text>
<text x="1308.5" y="975.7" textLength="41.6" lengthAdjust="spacingAndGlyphs" fill="#666" font-family="Liberation Sans, sans-serif" font-size="36">40</text>
<text x="1308.5" y="1076.1" textLength="41.6" lengthAdjust="spacingAndGlyphs" fill="#666" font-family="Liberation Sans, sans-serif" font-size="36">20</text>
<text x="1308.5" y="1176.5" textLength="20.8" lengthAdjust="spacingAndGlyphs" fill="#666" font-family="Liberation Sans, sans-serif" font-size="36">0</text>
<text transform="translate(211.0,1219.5) rotate(-50)" text-anchor="end" textLength="91.5" lengthAdjust="spacingAndGlyphs" fill="#666" font-family="Liberation Sans, sans-serif" font-size="36">17:24</text>
<text transform="translate(280.2,1219.5) rotate(-50)" text-anchor="end" textLength="91.5" lengthAdjust="spacingAndGlyphs" fill="#666" font-family="Liberation Sans, sans-serif" font-size="36">17:53</text>
<text transform="translate(349.4,1219.5) rotate(-50)" text-anchor="end" textLength="91.5" lengthAdjust="spacingAndGlyphs" fill="#666" font-family="Liberation Sans, sans-serif" font-size="36">18:22</text>
<text transform="translate(418.6,1219.5) rotate(-50)" text-anchor="end" textLength="91.5" lengthAdjust="spacingAndGlyphs" fill="#666" font-family="Liberation Sans, sans-serif" font-size="36">18:51</text>
<text transform="translate(487.8,1219.5) rotate(-50)" text-anchor="end" textLength="91.5" lengthAdjust="spacingAndGlyphs" fill="#666" font-family="Liberation Sans, sans-serif" font-size="36">19:20</text>
<text transform="translate(557.0,1219.5) rotate(-50)" text-anchor="end" textLength="91.5" lengthAdjust="spacingAndGlyphs" fill="#666" font-family="Liberation Sans, sans-serif" font-size="36">19:49</text>
<text transform="translate(626.3,1219.5) rotate(-50)" text-anchor="end" textLength="91.5" lengthAdjust="spacingAndGlyphs" fill="#666" font-family="Liberation Sans, sans-serif" font-size="36">20:18</text>
<text transform="translate(695.5,1219.5) rotate(-50)" text-anchor="end" textLength="91.5" lengthAdjust="spacingAndGlyphs" fill="#666" font-family="Liberation Sans, sans-serif" font-size="36">20:47</text>
<text transform="translate(764.7,1219.5) rotate(-50)" text-anchor="end" textLength="91.5" lengthAdjust="spacingAndGlyphs" fill="#666" font-family="Liberation Sans, sans-serif" font-size="36">21:16</text>
<text transform="translate(833.9,1219.5) rotate(-50)" text-anchor="end" textLength="91.5" lengthAdjust="spacingAndGlyphs" fill="#666" font-family="Liberation Sans, sans-serif" font-size="36">21:45</text>
<text transform="translate(903.1,1219.5) rotate(-50)" text-anchor="end" textLength="91.5" lengthAdjust="spacingAndGlyphs" fill="#666" font-family="Liberation Sans, sans-serif" font-size="36">22:14</text>
<text transform="translate(972.3,1219.5) rotate(-50)" text-anchor="end" textLength="91.5" lengthAdjust="spacingAndGlyphs" fill="#666" font-family="Liberation Sans, sans-serif" font-size="36">22:43</text>
<text transform="translate(1041.5,1219.5) rotate(-50)" text-anchor="end" textLength="91.5" lengthAdjust="spacingAndGlyphs" fill="#666" font-family="Liberation Sans, sans-serif" font-size="36">23:12</text>
<text transform="translate(1110.7,1219.5) rotate(-50)" text-anchor="end" textLength="91.5" lengthAdjust="spacingAndGlyphs" fill="#666" font-family="Liberation Sans, sans-serif" font-size="36">23:41</text>
<text transform="translate(1179.9,1219.5) rotate(-50)" text-anchor="end" textLength="91.5" lengthAdjust="spacingAndGlyphs" fill="#666" font-family="Liberation Sans, sans-serif" font-size="36">00:10</text>
<text transform="translate(1249.1,1219.5) rotate(-50)" text-anchor="end" textLength="91.5" lengthAdjust="spacingAndGlyphs" fill="#666" font-family="Liberation Sans, sans-serif" font-size="36">00:39</text>
<text x="738.7" y="1349.4" text-anchor="middle" textLength="62.3" lengthAdjust="spacingAndGlyphs" fill="#666" font-family="Liberation Sans, sans-serif" font-size="36">Zeit</text>
<text transform="translate(104.3,915) rotate(-90)" text-anchor="middle" textLength="218.3" lengthAdjust="spacingAndGlyphs" fill="#666" font-family="Liberation Sans, sans-serif" font-size="36">Leistung [kW]</text>
<text transform="translate(1404,915.3) rotate(90)" text-anchor="middle" textLength="121.3" lengthAdjust="spacingAndGlyphs" fill="#666" font-family="Liberation Sans, sans-serif" font-size="36">SoC [%]</text>
<rect x="216.1" y="201.3" width="120" height="36" fill="rgba(10,255,13,0.3)" stroke="rgba(40,167,69,0.7)" stroke-width="3"/>
<text x="353.4" y="229.8" textLength="205.5" lengthAdjust="spacingAndGlyphs" fill="#666" font-family="Liberation Sans, sans-serif" font-size="36">PV (Summe)</text>
<rect x="586.8" y="201.3" width="120" height="36" fill="rgba(10,255,13,0.3)" stroke="rgba(40,167,69,0.7)" stroke-width="3"/>
<text x="726.0" y="229.8" textLength="565.5" lengthAdjust="spacingAndGlyphs" fill="#666" font-family="Liberation Sans, sans-serif" font-size="36">West WR2 Plenti m. Speicher IP152</text>
<line x1="726.0" y1="219.6" x2="1291.5" y2="219.6" stroke="#666" stroke-width="6"/>
<rect x="102.2" y="267.3" width="120" height="36" fill="rgba(10,255,13,0.3)" stroke="rgba(40,167,69,0.7)" stroke-width="3"/>
<text x="241.5" y="295.8" textLength="485.5" lengthAdjust="spacingAndGlyphs" fill="#666" font-family="Liberation Sans, sans-serif" font-size="36">Ost WR1 Plenti (nur WR) IP151</text>
<line x1="241.5" y1="285.6" x2="727.0" y2="285.6" stroke="#666" stroke-width="6"/>
<rect x="761.5" y="267.3" width="120" height="36" fill="rgba(255,10,13,0.3)" stroke="rgba(255,0,0,0.7)" stroke-width="3"/>
<text x="897.5" y="295.8" textLength="511.1" lengthAdjust="spacingAndGlyphs" fill="#666" font-family="Liberation Sans, sans-serif" font-size="36">Kostal Plenticore Zähler - KSEM</text>
<rect x="377.9" y="333.3" width="120" height="36" fill="rgba(200,255,13,0.3)" stroke="rgba(255,130,13,0.7)" stroke-width="6" stroke-dasharray="30 15"/>
<text x="514.3" y="361.8" textLength="617.1" lengthAdjust="spacingAndGlyphs" fill="#666" font-family="Liberation Sans, sans-serif" font-size="36">Kostal Plenticore Speicher - BYD (SoC)</text>
<rect x="171.5" y="399.3" width="120" height="36" fill="rgba(200,255,13,0.3)" stroke="rgba(255,130,13,0.7)" stroke-width="3"/>
<text x="306.5" y="427.8" textLength="518.8" lengthAdjust="spacingAndGlyphs" fill="#666" font-family="Liberation Sans, sans-serif" font-size="36">Kostal Plenticore Speicher - BYD</text>
<rect x="854.0" y="399.3" width="120" height="36" fill="rgba(0,0,255,0.3)" stroke="rgba(0,0,255,0.7)" stroke-width="3"/>
<text x="990.4" y="427.8" textLength="348.2" lengthAdjust="spacingAndGlyphs" fill="#666" font-family="Liberation Sans, sans-serif" font-size="36">Ladepunkte (Summe)</text>
<rect x="246.1" y="465.3" width="120" height="36" fill="rgba(0,0,255,0.3)" stroke="rgba(0,0,255,0.7)" stroke-width="3"/>
<text x="385.0" y="493.8" textLength="306.5" lengthAdjust="spacingAndGlyphs" fill="#666" font-family="Liberation Sans, sans-serif" font-size="36">openWB Standard+</text>
<line x1="385.0" y1="483.6" x2="691.5" y2="483.6" stroke="#666" stroke-width="6"/>
<rect x="723.0" y="465.3" width="120" height="36" fill="rgba(0,0,255,0.3)" stroke="rgba(0,0,255,0.7)" stroke-width="6" stroke-dasharray="30 15"/>
<text x="859.0" y="493.8" textLength="404.5" lengthAdjust="spacingAndGlyphs" fill="#666" font-family="Liberation Sans, sans-serif" font-size="36">Standard-Fahrzeug (SoC)</text>
<rect x="230.5" y="531.3" width="120" height="36" fill="rgba(0,0,255,0.3)" stroke="rgba(0,0,255,0.7)" stroke-width="6" stroke-dasharray="30 15"/>
<text x="365.5" y="559.8" textLength="339.6" lengthAdjust="spacingAndGlyphs" fill="#666" font-family="Liberation Sans, sans-serif" font-size="36">Ioniq-Fahrzeug (SoC)</text>
<rect x="734.0" y="531.3" width="120" height="36" fill="rgba(0,0,255,0.3)" stroke="rgba(0,0,255,0.7)" stroke-width="6" stroke-dasharray="30 15"/>
<text x="870.6" y="559.8" textLength="408.9" lengthAdjust="spacingAndGlyphs" fill="#666" font-family="Liberation Sans, sans-serif" font-size="36">Besucher-Fahrzeug (SoC)</text>
<rect x="564.2" y="597.3" width="120" height="36" fill="rgba(150,152,156,0.4)" stroke="rgba(117,118,121,0.75)" stroke-width="3"/>
<text x="701.2" y="625.8" textLength="245.1" lengthAdjust="spacingAndGlyphs" fill="#666" font-family="Liberation Sans, sans-serif" font-size="36">Hausverbrauch</text>
</svg>
</body></html>
